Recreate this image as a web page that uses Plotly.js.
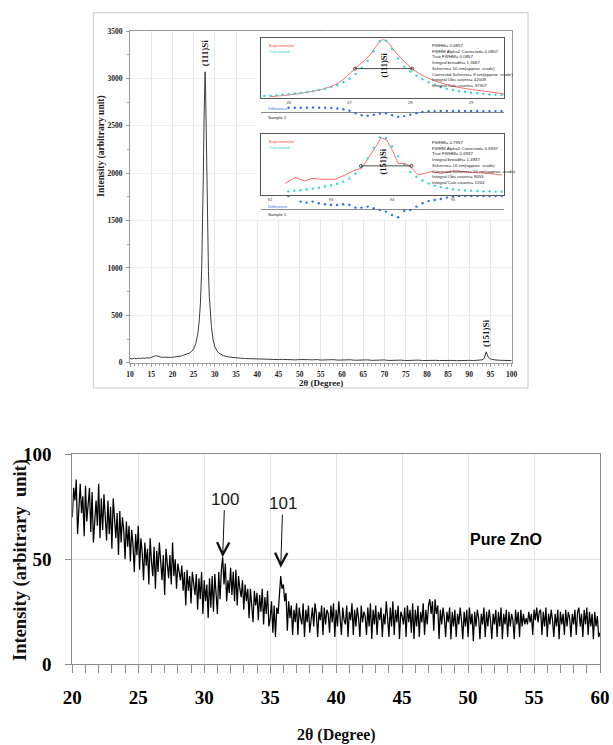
<!DOCTYPE html>
<html><head><meta charset="utf-8">
<script src="https://cdn.plot.ly/plotly-3.0.1.min.js"></script>
<style>html,body{margin:0;padding:0;background:#fff}#chart{width:613px;height:745px}</style>
</head><body><div id="chart"></div>
<script>
// ---------- Top chart: Si XRD ----------
const siTwoTheta = [10,10.5,11,11.5,12,12.5,13,13.5,14,14.5,15,15.5,16,16.5,17,17.5,18,18.5,19,19.5,20,20.5,21,21.5,22,22.5,23,23.5,24,24.5,25,25.5,26,26.3,26.6,26.9,27.1,27.3,27.45,27.6,27.7,27.8,27.95,28.1,28.3,28.5,28.7,28.9,29.2,29.6,30,30.5,31,31.5,32,
  33,34,35,36,37,38,39,40,41,42,43,44,45,46,47,48,49,50,51,52,53,54,55,56,57,58,59,60,61,62,63,64,65,66,67,68,69,70,71,72,73,74,75,76,77,78,79,80,81,82,83,84,85,86,87,88,89,90,91,92,
  93,93.5,93.8,94,94.2,94.5,95,95.5,96,97,98,99,100];
const siIntensity = [45,40,47,42,48,44,50,46,52,48,55,62,74,70,60,56,58,54,57,55,58,62,60,66,70,78,86,96,100,118,145,200,310,430,620,980,1400,2000,2550,2950,3070,2950,2500,1950,1380,960,700,530,380,240,170,125,100,88,75,
  62,55,50,48,44,42,40,38,36,38,34,36,33,35,31,34,30,33,29,32,30,33,28,31,29,32,27,30,28,31,26,29,27,30,25,28,26,29,24,27,24,27,23,26,24,27,23,26,22,25,23,25,22,24,21,24,22,25,23,26,
  30,45,95,115,90,55,40,34,30,26,24,21,22];
const siPeakLabels = ['(111)Si', '(151)Si'];
const siPeakX = [27.7, 94];
const siPeakY = [3070, 115];

// Inset 1: (111) peak profile
const inset1Range = [25.54, 29.54];
const exp1X = [25.69,25.99,26.27,26.54,26.82,27.09,27.31,27.45,27.52,27.61,27.75,28.03,28.3,28.74,29.29,29.65];
const exp1Y = [1.7,4.5,8.5,14,25,49,69,88,97,95.5,77.5,49,32.6,18.5,10,4.5];
const calc1Start = 25.6, calc1Step = 0.1;
const calc1Y = [3,3.5,4,5,6,7,8,9.5,11,13,15,18,21,26,32,40,50,62,78,95,96,82,66,52,44,37,31,26,22,18,15,13,11,10,8.5,7.5,6.5,5.5,5,4.5];
const diff1Start = 26.0, diff1Step = 0.1;
const diff1Y = [4.5,4.5,4.5,4.5,4.8,4.6,4.5,4.2,3.8,3,1.5,-1,-3,-3.5,-2.5,-1.2,-1,-3,-4.5,-3.8,-2.5,-1,0.3,1,1.2,1.3,1.3,1.3,1.3,1.3,1.3,1.3,1.2,1.2,1.2,1.3];
const fwhm1X = [27.09, 28.03], fwhm1Y = [49, 49];
const center1 = 27.56;
const inset1Ticks = [26, 27, 28, 29];
const inset1Text = ['FWHM= 0.0857','FWHM Alpha2 Corrected= 0.0807','True FWHM= 0.0857','Integral breadth= 1.3667','Scherrer= 10 nm(approx. crude)','Corrected Scherrer= 9 nm(approx. crude)','Integral Obs.counts= 42009','Integral Calc.counts= 37307'];

// Inset 2: (151) peak profile
const inset2Range = [91.852, 95.841];
const exp2X = [92.25,92.41,92.57,92.68,92.85,93.07,93.23,93.39,93.5,93.61,93.75,93.82,93.91,94.02,94.1,94.21,94.29,94.43,94.65,94.81,95.03,95.31,95.58,95.8];
const exp2Y = [19,29,23,27.5,26,26,33,41,44,60,82,94.5,90.7,71,52,52,48,33,38.5,35.7,39.6,37.4,35.7,33];
const calc2Start = 92.3, calc2Step = 0.1;
const calc2Y = [6,7,8,9,10.5,12,14,16,18.5,22,27,35,46,60,78,95,94,80,64,50,38,30,24,19,15.5,13,11,9.5,8.5,7.5,7,6.5,6,6,5.5,5.5];
const diff2Start = 92.3, diff2Step = 0.1;
const diff2Y = [13.3,16,7.7,6.7,7.7,6,5,4.3,4.3,5,4.3,1.7,1.7,2.7,1,-0.7,-2.3,-5.7,-8,-1.7,-0.7,2.7,6,8.3,9.3,10.3,11.7,12.7,13.3,13.3,13.3,13.3,13.3,13.3,13.3,13.3];
const fwhm2X = [93.49, 94.32], fwhm2Y = [48, 48];
const center2 = 93.85;
const inset2Ticks = [92, 93, 94, 95];
const inset2Text = ['FWHM= 0.7957','FWHM Alpha2 Corrected= 0.6937','True FWHM= 0.6937','Integral breadth= 1.4937','Scherrer= 16 nm(approx. crude)','Corrected Scherrer= 20 nm(approx. crude)','Integral Obs.counts= 9055','Integral Calc.counts= 1264'];

// ---------- Bottom chart: Pure ZnO ----------
const znoStart = 20, znoStep = 0.1;
const znoIntensity = [
70,84,78,88,62,74,86,72,80,61,
85,68,76,84,63,82,58,71,78,66,
86,60,79,64,81,70,59,78,62,75,
55,79,68,60,72,52,73,58,70,64,
50,68,56,66,49,64,57,44,62,52,
66,45,60,53,40,58,47,55,38,60,
49,42,56,36,54,44,58,50,40,52,
33,55,47,41,52,38,58,42,50,36,
48,44,40,47,35,44,28,45,35,42,
29,44,37,33,43,26,41,31,44,24,
40,30,38,22,41,27,42,25,43,33,
24,44,31,45,51,38,48,30,40,34,
46,33,44,30,45,28,42,36,32,40,
26,38,30,36,22,36,28,20,35,28,
34,21,33,25,36,19,32,24,35,18,
22,30,15,28,13,27,24,32,42,36,
38,30,34,16,30,22,28,14,26,20,
29,14,27,22,19,29,13,26,20,28,
15,21,27,18,29,24,13,25,21,28,
14,27,19,26,24,15,28,20,29,13,
26,18,30,22,14,27,21,19,28,13,
25,21,29,14,26,18,27,22,13,28,
20,25,23,14,27,18,29,12,26,19,
28,14,25,21,27,13,24,19,30,22,
13,27,18,30,14,26,20,28,12,25,
23,19,27,13,28,20,26,15,29,12,
26,18,28,13,25,20,29,14,26,19,
28,31,24,30,16,31,24,28,12,26,
19,27,22,13,25,20,27,12,25,18,
26,13,24,19,27,21,12,25,18,26,
13,27,19,24,11,25,18,26,22,12,
24,19,27,13,25,18,26,21,12,24,
19,26,13,25,18,27,12,24,19,26,
13,25,18,24,21,12,26,19,25,13,
26,18,24,19,22,19,25,20,24,14,
26,21,27,20,25,26,14,25,18,27,
13,24,19,26,21,13,24,18,26,12,
25,19,24,14,26,18,25,22,13,24,
19,26,14,25,27,18,24,13,26,19,
27,14,25,18,24,12,25,18,23,13,
15];
const znoPeakLabels = ['100', '101'];
const znoPeakX = [31.4, 35.8];
const znoPeakY = [51, 46];
const znoLabelOffset = [-58, -64];

// ---------- helpers (page pixel -> paper fraction) ----------
const W = 613, H = 745;
const px = v => v / W;
const py = v => 1 - v / H;
const serif = 'Liberation Serif, Times New Roman, serif';
const sans = 'Liberation Sans, Arial, sans-serif';

const hidden = {showgrid:false, zeroline:false, showline:false, showticklabels:false, ticks:'', fixedrange:true};

const traces = [
  {x: siTwoTheta, y: siIntensity, mode:'lines', line:{color:'#3c3c3c', width:1}, xaxis:'x', yaxis:'y', hoverinfo:'skip'},
  {x: [], y: [], mode:'markers', xaxis:'x2', yaxis:'y2', hoverinfo:'skip'},
  {x0: diff1Start, dx: diff1Step, y: diff1Y, mode:'markers', marker:{color:'#2f6ff0', size:2.4}, xaxis:'x3', yaxis:'y3', hoverinfo:'skip'},
  {x: exp1X, y: exp1Y, mode:'lines', line:{color:'#ff5a5a', width:0.9, shape:'spline'}, xaxis:'x4', yaxis:'y4', hoverinfo:'skip'},
  {x0: calc1Start, dx: calc1Step, y: calc1Y, mode:'markers', marker:{color:'#35d5d5', size:2.4}, xaxis:'x4', yaxis:'y4', hoverinfo:'skip'},
  {x: fwhm1X, y: fwhm1Y, mode:'lines+markers', line:{color:'#222', width:0.8}, marker:{symbol:'circle-open', size:3, color:'#333', line:{width:0.8}}, xaxis:'x4', yaxis:'y4', hoverinfo:'skip'},
  {x0: diff2Start, dx: diff2Step, y: diff2Y, mode:'markers', marker:{color:'#2f6ff0', size:2.4}, xaxis:'x5', yaxis:'y5', hoverinfo:'skip'},
  {x: exp2X, y: exp2Y, mode:'lines', line:{color:'#ff5a5a', width:0.9}, xaxis:'x6', yaxis:'y6', hoverinfo:'skip'},
  {x0: calc2Start, dx: calc2Step, y: calc2Y, mode:'markers', marker:{color:'#35d5d5', size:2.4}, xaxis:'x6', yaxis:'y6', hoverinfo:'skip'},
  {x: fwhm2X, y: fwhm2Y, mode:'lines+markers', line:{color:'#222', width:0.8}, marker:{symbol:'circle-open', size:3, color:'#333', line:{width:0.8}}, xaxis:'x6', yaxis:'y6', hoverinfo:'skip'},
  {x0: znoStart, dx: znoStep, y: znoIntensity, mode:'lines', line:{color:'#000', width:1.25}, xaxis:'x7', yaxis:'y7', hoverinfo:'skip'}
];

const topTickFont = {family: serif, size: 7.5, weight: 'bold', color: '#222'};
const insetTickFont = {family: sans, size: 4, color: '#333'};

const annotations = [];
// main peak labels
siPeakLabels.forEach((t, i) => annotations.push({text: t, x: siPeakX[i], y: siPeakY[i], xref:'x', yref:'y', showarrow:false, textangle:-90, yanchor:'bottom', xanchor:'center', yshift:3, font:{family: serif, size:9, weight:'bold', color:'#111'}}));
// top titles
annotations.push({text:'Intensity (arbitrary unit)', x:px(100.7), y:py(146), xref:'paper', yref:'paper', xanchor:'center', yanchor:'middle', showarrow:false, textangle:-90, font:{family: serif, size:9.5, weight:'bold', color:'#222'}});
annotations.push({text:'2θ (Degree)', x:px(320.5), y:py(382.7), xref:'paper', yref:'paper', xanchor:'center', yanchor:'middle', showarrow:false, font:{family: serif, size:9, weight:'bold', color:'#222'}});

// inset labels
function insetLabels(xd, yd, diffx, diffy, lines, peakText, center, diffLabelY, sampleY) {
  annotations.push({text:'Experimental', xref:xd+' domain', yref:yd+' domain', x:0.025, y:0.875, xanchor:'left', yanchor:'middle', showarrow:false, font:{family:sans, size:4.3, color:'#ff4040'}});
  annotations.push({text:'Calculated', xref:xd+' domain', yref:yd+' domain', x:0.025, y:0.78, xanchor:'left', yanchor:'middle', showarrow:false, font:{family:sans, size:4.3, color:'#30cccc'}});
  annotations.push({text:lines.join('<br>'), xref:xd+' domain', yref:yd+' domain', x:0.70, y:0.93, xanchor:'left', yanchor:'top', align:'left', showarrow:false, borderpad:0, font:{family:sans, size:4.4, color:'#222'}});
  annotations.push({text:peakText, xref:xd, yref:yd+' domain', x:center, y:0.55, xanchor:'center', yanchor:'middle', showarrow:false, textangle:-90, font:{family: serif, size:8.5, weight:'bold', color:'#111'}});
  annotations.push({text:'Difference', xref:diffx+' domain', yref:diffy, x:0.02, y:diffLabelY, xanchor:'left', yanchor:'middle', showarrow:false, font:{family:sans, size:4.3, color:'#2f6ff0'}});
  annotations.push({text:'Sample 1', xref:diffx+' domain', yref:diffy, x:0.02, y:sampleY, xanchor:'left', yanchor:'middle', showarrow:false, font:{family:sans, size:4.3, color:'#222'}});
}
insetLabels('x4','y4','x3','y3', inset1Text, siPeakLabels[0], center1, 3.8, -5.5);
insetLabels('x6','y6','x5','y5', inset2Text, siPeakLabels[1], center2, 2.5, -5);

// bottom chart labels
znoPeakLabels.forEach((t, i) => annotations.push({text:t, x:znoPeakX[i], y:znoPeakY[i], xref:'x7', yref:'y7', showarrow:true, ax:2, ay:znoLabelOffset[i], arrowhead:5, arrowsize:2.4, arrowwidth:1, arrowcolor:'#111', standoff:0, font:{family:sans, size:17, color:'#1a1a1a'}}));
annotations.push({text:'<b>Pure ZnO</b>', x:52.9, y:59.2, xref:'x7', yref:'y7', xanchor:'center', yanchor:'middle', showarrow:false, font:{family:sans, size:16, color:'#000'}});
annotations.push({text:'Intensity (arbitrary  unit)', x:px(20), y:py(560), xref:'paper', yref:'paper', xanchor:'center', yanchor:'middle', showarrow:false, textangle:-90, font:{family: serif, size:18.5, weight:'bold', color:'#111'}});
annotations.push({text:'2θ (Degree)', x:px(336), y:py(735), xref:'paper', yref:'paper', xanchor:'center', yanchor:'middle', showarrow:false, font:{family: serif, size:16, weight:'bold', color:'#111'}});

const shapes = [
  {type:'rect', xref:'paper', yref:'paper', x0:px(93.3), x1:px(528), y0:py(388), y1:py(12.7), line:{color:'#c8c8c8', width:1}, fillcolor:'rgba(0,0,0,0)', layer:'below'},
  {type:'line', xref:'x4', yref:'y4 domain', x0:center1, x1:center1, y0:0, y1:1, line:{color:'#8fec8f', width:2}, layer:'below'},
  {type:'line', xref:'x6', yref:'y6 domain', x0:center2, x1:center2, y0:0, y1:1, line:{color:'#8fec8f', width:2}, layer:'below'}
];

const insetBox = {showline:true, mirror:true, linecolor:'#555', linewidth:1, showgrid:false, zeroline:false, fixedrange:true};

const layout = {
  width: W, height: H,
  margin: {l:0, r:0, t:0, b:0, pad:0},
  paper_bgcolor:'#fff', plot_bgcolor:'#fff',
  showlegend:false,
  xaxis: {domain:[px(130), px(511.7)], range:[10,100], anchor:'y', dtick:5, tick0:10, showgrid:true, gridcolor:'#e8e8e8', gridwidth:1, zeroline:false,
          showline:true, linecolor:'#9a9a9a', mirror:true, ticks:'outside', ticklen:3, tickcolor:'#9a9a9a', tickfont:topTickFont, ticklabelstandoff:1,
          minor:{dtick:1, ticks:'outside', ticklen:2, tickcolor:'#aaa', showgrid:false}},
  yaxis: {domain:[py(362.7), py(31)], range:[0,3500], anchor:'x', dtick:500, showgrid:true, gridcolor:'#efefef', zeroline:false,
          showline:true, linecolor:'#9a9a9a', mirror:true, ticks:'outside', ticklen:3, tickcolor:'#9a9a9a', tickfont:topTickFont, ticklabelstandoff:2,
          minor:{dtick:250, ticks:'outside', ticklen:2, tickcolor:'#aaa', showgrid:false}},
  xaxis2: Object.assign({domain:[px(256), px(510.5)], range:[0,1], anchor:'y2'}, hidden),
  yaxis2: Object.assign({domain:[py(219), py(32.5)], range:[0,1], anchor:'x2'}, hidden),
  xaxis3: Object.assign({domain:[px(260.7), px(504)], range:inset1Range, anchor:'y3'}, hidden),
  yaxis3: Object.assign({}, hidden, {domain:[py(121), py(104)], range:[-8.7, 8.3], anchor:'x3', zeroline:true, zerolinecolor:'#8a8a8a', zerolinewidth:1}),
  xaxis4: Object.assign({domain:[px(260.7), px(504)], range:inset1Range, anchor:'y4', tickvals:inset1Ticks, ticks:'', tickfont:insetTickFont, ticklabelstandoff:0}, insetBox),
  yaxis4: Object.assign({domain:[py(97.7), py(38.3)], range:[0,100], anchor:'x4', showticklabels:false, ticks:''}, insetBox),
  xaxis5: Object.assign({domain:[px(261), px(504.3)], range:inset2Range, anchor:'y5'}, hidden),
  yaxis5: Object.assign({}, hidden, {domain:[py(219), py(193)], range:[-9.7, 16.3], anchor:'x5', zeroline:true, zerolinecolor:'#8a8a8a', zerolinewidth:1}),
  xaxis6: Object.assign({domain:[px(261), px(504.3)], range:inset2Range, anchor:'y6', tickvals:inset2Ticks, ticks:'', tickfont:insetTickFont, ticklabelstandoff:0}, insetBox),
  yaxis6: Object.assign({domain:[py(195), py(134.3)], range:[0,100], anchor:'x6', showticklabels:false, ticks:''}, insetBox),
  xaxis7: {domain:[px(72.3), px(600)], range:[20,60], anchor:'y7', dtick:5, tick0:20, showgrid:true, gridcolor:'#e3e3e3', zeroline:false,
           showline:true, linecolor:'#8c8c8c', mirror:true, ticks:'outside', ticklen:8, tickcolor:'#8c8c8c',
           tickfont:{family: serif, size:19, weight:'bold', color:'#000'}, ticklabelstandoff:8,
           minor:{dtick:1, ticks:'outside', ticklen:8, tickcolor:'#8c8c8c', showgrid:false}},
  yaxis7: {domain:[py(664.3), py(454.3)], range:[0,100], anchor:'x7', dtick:50, showgrid:true, gridcolor:'#e3e3e3', zeroline:false,
           showline:true, linecolor:'#8c8c8c', mirror:true, ticks:'outside', ticklen:6, tickcolor:'#8c8c8c',
           tickfont:{family: serif, size:19, weight:'bold', color:'#000'}, ticklabelstandoff:10},
  annotations: annotations,
  shapes: shapes
};

Plotly.newPlot('chart', traces, layout, {staticPlot:true, displayModeBar:false});
</script>
</body></html>
